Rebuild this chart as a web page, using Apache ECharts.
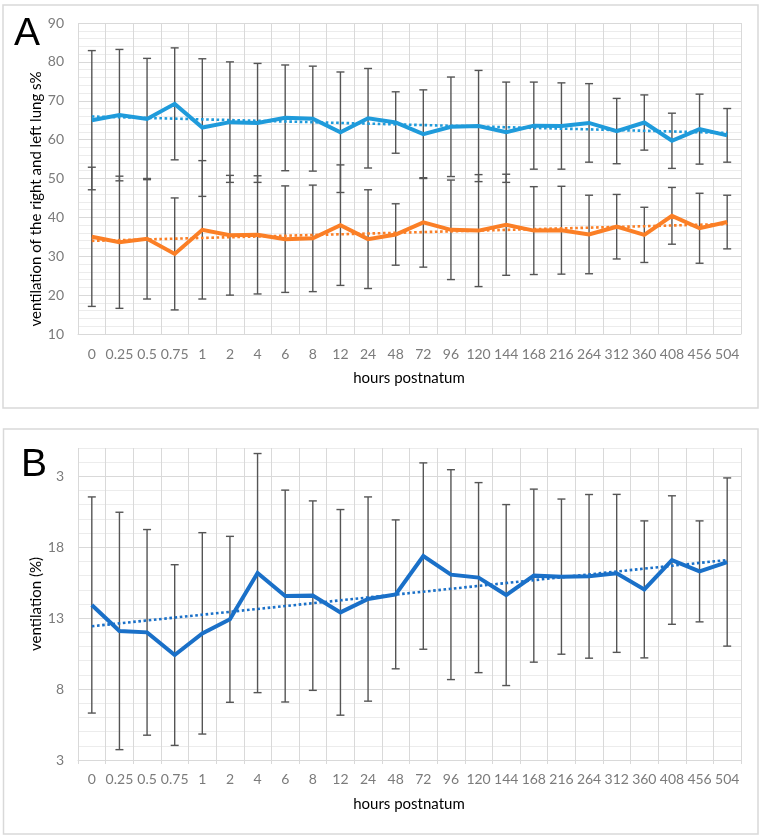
<!DOCTYPE html>
<html>
<head>
<meta charset="utf-8">
<script src="https://cdn.jsdelivr.net/npm/echarts@6/dist/echarts.min.js"></script>
<style>html,body{margin:0;padding:0;background:#fff}#c{width:763px;height:839px}</style>
</head>
<body>
<div id="c"></div>
<script>
// ---- data ----
const hours = ['0','0.25','0.5','0.75','1','2','4','6','8','12','24','48','72','96','120','144','168','216','264','312','360','408','456','504'];
const rightLung = [65.0,66.3,65.3,69.2,63.1,64.5,64.3,65.6,65.4,61.9,65.5,64.4,61.4,63.3,63.5,61.9,63.6,63.5,64.3,62.2,64.4,59.7,62.7,61.1];
const rightLungSD = [17.9,16.9,15.6,14.4,17.7,15.5,15.3,13.6,13.5,15.5,12.8,7.9,11.4,12.8,14.3,12.9,11.2,11.1,10.1,8.4,7.1,7.1,9.0,6.9];
const leftLung = [35.0,33.6,34.5,30.6,36.8,35.4,35.5,34.4,34.6,38.0,34.4,35.6,38.7,36.8,36.6,38.1,36.6,36.7,35.6,37.6,35.5,40.4,37.2,38.8];
const leftLungSD = [17.9,17.0,15.5,14.4,17.8,15.4,15.2,13.7,13.7,15.5,12.7,7.9,11.5,12.8,14.4,13.0,11.3,11.3,10.1,8.3,7.1,7.3,9.0,6.9];
const ventB = [13.93,12.10,12.00,10.40,11.93,12.92,16.18,14.56,14.59,13.41,14.35,14.68,17.38,16.07,15.86,14.63,16.00,15.93,15.95,16.16,15.03,17.10,16.30,16.96];
const ventBSD = [7.62,8.37,7.25,6.37,7.10,5.85,8.43,7.47,6.68,7.25,7.20,5.25,6.57,7.40,6.70,6.38,6.10,5.47,5.77,5.57,4.83,4.53,3.56,5.93];
const yTicksA = [10,20,30,40,50,60,70,80,90];
const yLabelsA = ['10','20','30','40','50','60','70','80','90'];
const yTicksB = [3,8,13,18,23];
const yLabelsB = ['3','8','13','18','3'];

// linear trendline (least squares on category index), like a spreadsheet trendline
function trend(vals){
  const n = vals.length; let sx=0, sy=0, sxx=0, sxy=0;
  vals.forEach((v,i)=>{sx+=i; sy+=v; sxx+=i*i; sxy+=i*v;});
  const b = (n*sxy - sx*sy)/(n*sxx - sx*sx), a = (sy - b*sx)/n;
  return vals.map((v,i)=>a+b*i);
}

const FONT = 'Lato';
const labelGrey = '#7b7b7b';
const gridMajor = '#d9d9d9';
const gridMinor = '#ececec';
const errColor = '#555555';

function errSeries(xi, yi, vals, sds, z){
  return {
    type:'custom', xAxisIndex:xi, yAxisIndex:yi, z:z,
    data: vals.map((v,i)=>[i, v, sds[i]]),
    encode:{x:0,y:1},
    renderItem(params, api){
      const x = api.value(0), y = api.value(1), e = api.value(2);
      const t = api.coord([x, y+e]), b = api.coord([x, y-e]);
      const hw = 4;
      const st = {stroke: errColor, lineWidth: 1.4};
      return {type:'group', children:[
        {type:'line', shape:{x1:t[0],y1:t[1],x2:b[0],y2:b[1]}, style:st},
        {type:'line', shape:{x1:t[0]-hw,y1:t[1],x2:t[0]+hw,y2:t[1]}, style:st},
        {type:'line', shape:{x1:b[0]-hw,y1:b[1],x2:b[0]+hw,y2:b[1]}, style:st}
      ]};
    }
  };
}
function mainLine(xi, yi, vals, color){
  return {type:'line', xAxisIndex:xi, yAxisIndex:yi, data:vals, symbol:'none', z:5,
    lineStyle:{color:color, width:4, join:'miter'}, itemStyle:{color:color}};
}
function trendLine(xi, yi, vals, color){
  return {type:'line', xAxisIndex:xi, yAxisIndex:yi, data:trend(vals), symbol:'none', z:6,
    lineStyle:{color:color, width:2.6, type:[2.6,2.6]}, itemStyle:{color:color}};
}
function xAx(gi, showTick){
  return {type:'category', gridIndex:gi, data:hours, boundaryGap:true,
    axisLine:{show:true, lineStyle:{color:gridMajor, width:1}},
    axisTick:{show:showTick, length:4, interval:0, lineStyle:{color:gridMajor}},
    axisLabel:{interval:0, color:labelGrey, fontFamily:FONT, fontSize:14, margin:showTick?12:13},
    splitLine:{show:true, interval:0, lineStyle:{color:gridMajor, width:1}}};
}
function yAx(gi, min, max, step, ticks, labels){
  const colors = [gridMajor, gridMinor, gridMinor, gridMinor, gridMinor];
  return {type:'value', gridIndex:gi, min:min, max:max, interval:step,
    axisLine:{show:false}, axisTick:{show:false},
    axisLabel:{color:labelGrey, fontFamily:FONT, fontSize:14, margin:14,
      formatter:(v)=>{const k = ticks.findIndex(t=>Math.abs(t-v)<1e-6); return k>=0?labels[k]:'';}},
    splitLine:{show:true, lineStyle:{color:colors, width:1}}};
}

const chart = echarts.init(document.getElementById('c'), null, {renderer:'canvas'});
chart.setOption({
  backgroundColor:'#fff',
  animation:false,
  grid:[
    {left:78, right:22, top:23, height:311},
    {left:78, right:22, top:448, height:312}
  ],
  xAxis:[xAx(0,false), xAx(1,true)],
  yAxis:[yAx(0,10,90,2,yTicksA,yLabelsA), yAx(1,3,25,1,yTicksB,yLabelsB)],
  graphic:[
    {type:'rect', shape:{x:3,y:5,width:755,height:403}, style:{fill:'none', stroke:'#d9d9d9', lineWidth:1.5}, z:-10},
    {type:'rect', shape:{x:3.5,y:429,width:754.5,height:405}, style:{fill:'none', stroke:'#d9d9d9', lineWidth:1.5}, z:-10},
    {type:'text', x:14, y:34, style:{text:'A', font:'39px "Liberation Sans", Arial, sans-serif', fill:'#000', verticalAlign:'middle', align:'left'}, z:20},
    {type:'text', x:21, y:465.5, style:{text:'B', font:'39px "Liberation Sans", Arial, sans-serif', fill:'#000', verticalAlign:'middle', align:'left'}, z:20},
    {type:'text', x:36, y:199, rotation:Math.PI/2, style:{text:'ventilation of the right and left lung s%', font:'15px Lato', fill:'#000', align:'center', verticalAlign:'middle'}, z:20},
    {type:'text', x:36, y:604, rotation:Math.PI/2, style:{text:'ventilation (%)', font:'15px Lato', fill:'#000', align:'center', verticalAlign:'middle'}, z:20},
    {type:'text', x:409, y:378, style:{text:'hours postnatum', font:'15px Lato', fill:'#000', align:'center', verticalAlign:'middle'}, z:20},
    {type:'text', x:409, y:804, style:{text:'hours postnatum', font:'15px Lato', fill:'#000', align:'center', verticalAlign:'middle'}, z:20}
  ],
  series:[
    errSeries(0,0,rightLung,rightLungSD,3),
    errSeries(0,0,leftLung,leftLungSD,3),
    mainLine(0,0,rightLung,'#1f9bdb'),
    mainLine(0,0,leftLung,'#fb7f26'),
    trendLine(0,0,rightLung,'#1f9bdb'),
    trendLine(0,0,leftLung,'#fb7f26'),
    errSeries(1,1,ventB,ventBSD,3),
    mainLine(1,1,ventB,'#1a70c8'),
    trendLine(1,1,ventB,'#1a70c8')
  ]
});
</script>
</body>
</html>
